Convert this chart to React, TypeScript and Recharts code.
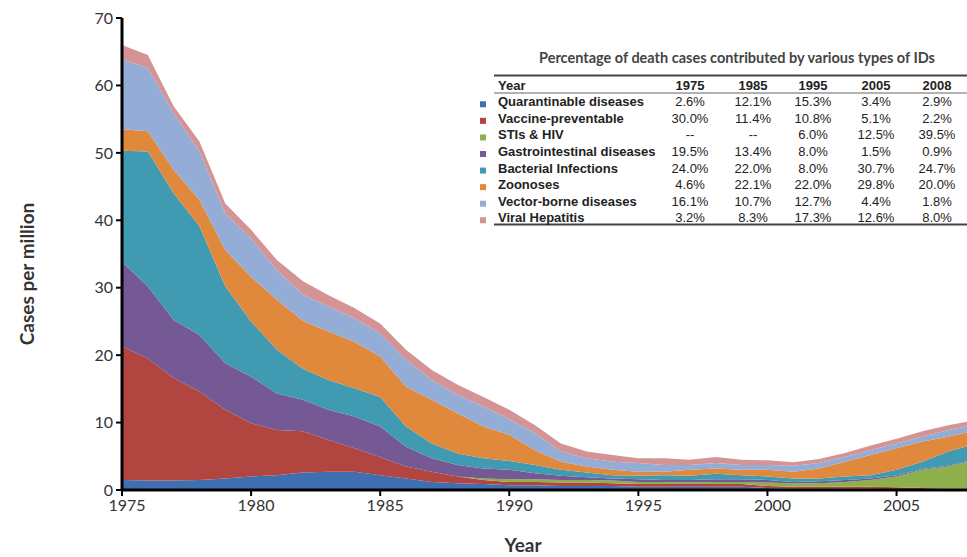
import React from 'react'
import { AreaChart, Area, XAxis, YAxis } from 'recharts'

// ---- chart data (cases per million) ----
const years = [
  1975, 1976, 1977, 1978, 1979, 1980, 1981, 1982, 1983, 1984, 1985, 1986,
  1987, 1988, 1989, 1990, 1991, 1992, 1993, 1994, 1995, 1996, 1997, 1998,
  1999, 2000, 2001, 2002, 2003, 2004, 2005, 2006, 2007, 2008,
]

const quarantinable = [
  1.5, 1.4, 1.4, 1.5, 1.7, 2.0, 2.2, 2.6, 2.7, 2.7, 2.2, 1.7, 1.2, 1.0, 0.9, 0.7, 0.7,
  0.6, 0.6, 0.6, 0.5, 0.5, 0.5, 0.5, 0.5, 0.3, 0.2, 0.2, 0.2, 0.2, 0.1, 0.1, 0.1, 0.1,
]
const vaccine = [
  19.8, 18.1, 15.2, 13.1, 10.2, 7.9, 6.7, 6.1, 4.7, 3.5, 2.7, 1.8, 1.5, 1.0, 0.6, 0.5, 0.5,
  0.5, 0.5, 0.4, 0.4, 0.4, 0.4, 0.4, 0.4, 0.3, 0.3, 0.3, 0.3, 0.3, 0.3, 0.2, 0.1, 0.1,
]
const stis = [
  0, 0, 0, 0, 0, 0, 0, 0, 0, 0, 0, 0, 0, 0, 0.2, 0.4, 0.4,
  0.4, 0.4, 0.4, 0.3, 0.3, 0.2, 0.3, 0.3, 0.5, 0.5, 0.5, 0.7, 1.0, 1.6, 2.7, 3.3, 4.2,
]
const gastro = [
  12.5, 10.7, 8.6, 8.4, 6.9, 6.9, 5.4, 4.7, 4.5, 4.7, 4.5, 2.9, 2.0, 1.7, 1.5, 1.4, 0.9,
  0.6, 0.4, 0.3, 0.4, 0.3, 0.4, 0.4, 0.4, 0.4, 0.2, 0.3, 0.3, 0.2, 0.2, 0.1, 0.1, 0.1,
]
const bacterial = [
  16.5, 20.0, 18.8, 16.1, 11.4, 8.2, 6.5, 4.6, 4.4, 4.2, 4.4, 3.0, 2.2, 1.7, 1.5, 1.3, 1.2,
  0.9, 0.7, 0.5, 0.5, 0.7, 0.6, 0.8, 0.6, 0.5, 0.5, 0.4, 0.5, 0.5, 0.8, 1.1, 2.1, 2.3,
]
const zoonoses = [
  3.2, 3.0, 3.5, 3.9, 5.4, 6.6, 7.4, 7.1, 7.2, 6.9, 6.0, 5.9, 6.5, 6.0, 4.7, 3.9, 2.2,
  1.2, 0.9, 0.8, 0.6, 0.5, 0.9, 0.8, 0.8, 1.0, 1.0, 1.5, 2.2, 3.0, 3.2, 3.0, 2.2, 2.0,
]
const vectorBorne = [
  10.4, 9.4, 8.4, 7.2, 5.4, 5.7, 4.4, 3.9, 3.7, 3.5, 3.4, 4.0, 2.9, 2.7, 3.0, 2.3, 2.5,
  1.5, 1.2, 1.2, 1.3, 1.0, 0.7, 0.8, 0.7, 0.7, 0.9, 0.8, 0.7, 0.7, 0.7, 0.7, 1.0, 0.8,
]
const hepatitis = [
  2.1, 1.9, 1.0, 1.5, 1.5, 1.3, 1.5, 2.0, 1.7, 1.5, 1.5, 1.5, 1.5, 1.5, 1.4, 1.4, 1.2,
  1.2, 1.0, 1.0, 0.7, 1.0, 0.8, 0.9, 0.8, 0.7, 0.5, 0.6, 0.6, 0.7, 0.7, 0.8, 0.7, 0.7,
]

const xTicks = [1975, 1980, 1985, 1990, 1995, 2000, 2005]
const yTicks = [0, 10, 20, 30, 40, 50, 60, 70]

// ---- inset table ----
const tableTitle = 'Percentage of death cases contributed by various types of IDs'
const tableYears = ['1975', '1985', '1995', '2005', '2008']
const tableNames = [
  'Quarantinable diseases',
  'Vaccine-preventable',
  'STIs & HIV',
  'Gastrointestinal diseases',
  'Bacterial Infections',
  'Zoonoses',
  'Vector-borne diseases',
  'Viral Hepatitis',
]
const tableValues = [
  ['2.6%', '12.1%', '15.3%', '3.4%', '2.9%'],
  ['30.0%', '11.4%', '10.8%', '5.1%', '2.2%'],
  ['--', '--', '6.0%', '12.5%', '39.5%'],
  ['19.5%', '13.4%', '8.0%', '1.5%', '0.9%'],
  ['24.0%', '22.0%', '8.0%', '30.7%', '24.7%'],
  ['4.6%', '22.1%', '22.0%', '29.8%', '20.0%'],
  ['16.1%', '10.7%', '12.7%', '4.4%', '1.8%'],
  ['3.2%', '8.3%', '17.3%', '12.6%', '8.0%'],
]

// stack order, bottom to top
const series = [
  { key: 'quarantinable', color: '#3f6fb0' },
  { key: 'vaccine', color: '#b1453f' },
  { key: 'stis', color: '#8db04c' },
  { key: 'gastro', color: '#745994' },
  { key: 'bacterial', color: '#3f9ab2' },
  { key: 'zoonoses', color: '#e0893c' },
  { key: 'vectorBorne', color: '#93add6' },
  { key: 'hepatitis', color: '#d49496' },
]

const data = years.map((year, i) => ({
  year,
  quarantinable: quarantinable[i],
  vaccine: vaccine[i],
  stis: stis[i],
  gastro: gastro[i],
  bacterial: bacterial[i],
  zoonoses: zoonoses[i],
  vectorBorne: vectorBorne[i],
  hepatitis: hepatitis[i],
}))

const tickFont = { fontFamily: 'Lato, sans-serif', fontSize: 16, fill: '#333' }
const colX = [690, 753, 813, 876, 937]

const InsetTable = () => {
  const rowY = (i: number) => 106.3 + i * 16.57
  return (
    <svg
      width={967}
      height={557}
      style={{ position: 'absolute', left: 0, top: 0, pointerEvents: 'none' }}
    >
      {/* axis titles */}
      <text
        x={0}
        y={0}
        transform="translate(34,274) rotate(-90)"
        textAnchor="middle"
        fontFamily="Lato, sans-serif"
        fontWeight="bold"
        fontSize={19}
        fill="#333"
      >
        Cases per million
      </text>
      <text
        x={523}
        y={552}
        textAnchor="middle"
        fontFamily="Lato, sans-serif"
        fontWeight="bold"
        fontSize={19}
        fill="#333"
      >
        Year
      </text>

      {/* table */}
      <text
        x={737}
        y={63}
        textAnchor="middle"
        fontFamily="Lato, sans-serif"
        fontWeight="bold"
        fontSize={14.5}
        fill="#444"
      >
        {tableTitle}
      </text>
      <line x1={494} x2={967} y1={75.5} y2={75.5} stroke="#444" strokeWidth={2} />
      <line x1={494} x2={967} y1={93} y2={93} stroke="#666" strokeWidth={1} />
      <line x1={494} x2={967} y1={224.5} y2={224.5} stroke="#444" strokeWidth={2} />
      <g fontFamily="'Liberation Sans', Arial, sans-serif" fontSize={13} fill="#222">
        <text x={498} y={89.6} fontWeight="bold">Year</text>
        {tableYears.map((y, j) => (
          <text key={y} x={colX[j]} y={89.6} fontWeight="bold" textAnchor="middle">
            {y}
          </text>
        ))}
        {tableNames.map((name, i) => (
          <g key={name}>
            <rect x={480} y={rowY(i) - 5} width={6} height={6} fill={series[i].color} />
            <text x={498} y={rowY(i)} fontWeight="bold">
              {name}
            </text>
            {tableValues[i].map((v, j) => (
              <text key={j} x={colX[j]} y={rowY(i)} textAnchor="middle">
                {v}
              </text>
            ))}
          </g>
        ))}
      </g>
    </svg>
  )
}

const App = () => {
  return (
    <div
      style={{
        position: 'absolute',
        left: 0,
        top: 0,
        width: 967,
        height: 557,
        overflow: 'hidden',
        background: '#fff',
      }}
    >
      <AreaChart
        width={980}
        height={557}
        data={data}
        margin={{ top: 18, right: 6, bottom: 0, left: 0 }}
      >
        <XAxis
          dataKey="year"
          type="number"
          domain={[1975, 2008]}
          ticks={xTicks}
          height={67}
          axisLine={{ stroke: '#000', strokeWidth: 3 }}
          tickLine={{ stroke: '#000', strokeWidth: 2 }}
          tickSize={6}
          tickMargin={4}
          tick={{ ...tickFont, dx: 5 }}
        />
        <YAxis
          type="number"
          domain={[0, 70]}
          ticks={yTicks}
          width={122}
          axisLine={{ stroke: '#000', strokeWidth: 3 }}
          tickLine={{ stroke: '#000', strokeWidth: 2 }}
          tickSize={6}
          tickMargin={3}
          tick={tickFont}
        />
        {series.map((s) => (
          <Area
            key={s.key}
            dataKey={s.key}
            stackId="1"
            type="linear"
            fill={s.color}
            fillOpacity={1}
            stroke="none"
            isAnimationActive={false}
          />
        ))}
      </AreaChart>
      <InsetTable />
    </div>
  )
}

export default App
